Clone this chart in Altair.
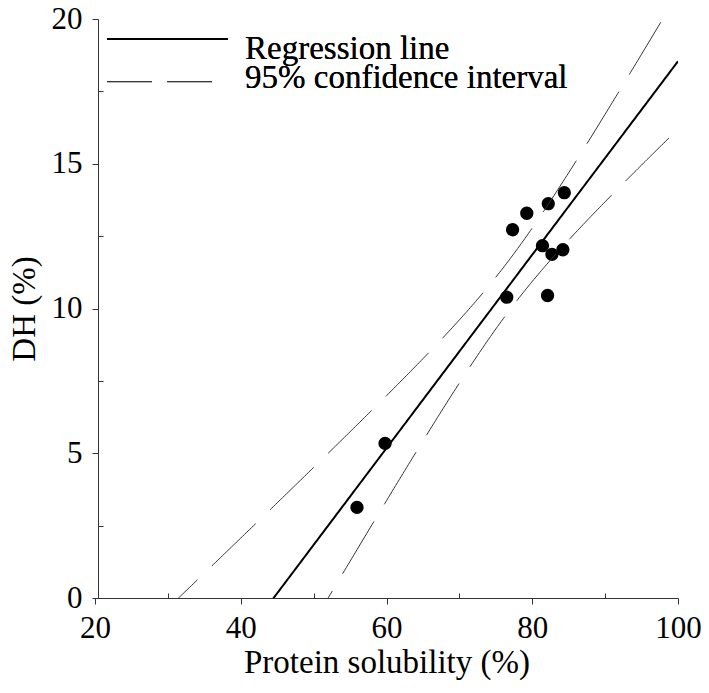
import numpy as np
import pandas as pd
import altair as alt

# ---- data ----
solubility = [84.4, 82.2, 79.25, 77.3, 81.4, 84.2, 82.7, 76.5, 82.1, 59.8, 55.95]
dh = [14.0, 13.62, 13.29, 12.72, 12.17, 12.03, 11.87, 10.39, 10.45, 5.34, 3.13]
x_ticks = [20, 40, 60, 80, 100]
x_minor = [30, 50, 70, 90]
y_ticks = [0, 5, 10, 15, 20]
y_minor = [2.5, 7.5, 12.5, 17.5]
legend_labels = ["Regression line", "95% confidence interval"]

# ---- least-squares fit and 95% confidence band of the mean ----
x = np.array(solubility)
y = np.array(dh)
n = len(x)
slope, intercept = np.polyfit(x, y, 1)
resid = y - (slope * x + intercept)
s = np.sqrt(np.sum(resid ** 2) / (n - 2))
sxx = np.sum((x - x.mean()) ** 2)
t975 = 2.262  # Student t quantile, 9 degrees of freedom
grid = np.linspace(20, 100, 321)
fit = slope * grid + intercept
hw = t975 * s * np.sqrt(1.0 / n + (grid - x.mean()) ** 2 / sxx)

pts = pd.DataFrame({"x": solubility, "y": dh})
fit_df = pd.DataFrame({"x": grid, "y": fit})
ci_df = pd.concat([
    pd.DataFrame({"x": grid, "y": fit + hw, "bound": "upper"}),
    pd.DataFrame({"x": grid, "y": fit - hw, "bound": "lower"}),
])

FONT = "Liberation Serif"
W, H = 583, 579
xs = alt.Scale(domain=[20, 100], nice=False, zero=False)
ys = alt.Scale(domain=[0, 20], nice=False, zero=False)

points = alt.Chart(pts).mark_circle(size=177, color="black", opacity=1).encode(
    x=alt.X("x:Q", scale=xs, title="Protein solubility (%)",
            axis=alt.Axis(values=x_ticks, tickSize=6, labelPadding=9,
                          titlePadding=3, format="d", labelFlush=False)),
    y=alt.Y("y:Q", scale=ys, title="DH (%)",
            axis=alt.Axis(values=y_ticks, tickSize=6, labelPadding=10,
                          titlePadding=10, offset=-3, format="d",
                          labelFlush=False)),
)

minor = alt.Chart(pts).mark_point(opacity=0).encode(
    x=alt.X("x:Q", scale=xs, title="",
            axis=alt.Axis(orient="top", offset=-H, values=x_minor, labels=False,
                          domain=False, tickSize=5)),
    y=alt.Y("y:Q", scale=ys, title="",
            axis=alt.Axis(orient="right", offset=-(W - 3), values=y_minor,
                          labels=False, domain=False, tickSize=5)),
)

reg_line = alt.Chart(fit_df).mark_line(color="black", strokeWidth=2, clip=True).encode(
    x=alt.X("x:Q", scale=xs, axis=None),
    y=alt.Y("y:Q", scale=ys, axis=None),
)

ci_lines = alt.Chart(ci_df).mark_line(color="#333333", strokeWidth=1,
                                      strokeDash=[61, 20], clip=True).encode(
    x=alt.X("x:Q", scale=xs, axis=None),
    y=alt.Y("y:Q", scale=ys, axis=None),
    detail="bound:N",
)

leg_df = pd.DataFrame({"label": legend_labels})
leg_reg = alt.Chart(leg_df).mark_rule(color="black", strokeWidth=2).encode(
    x=alt.value(12), x2=alt.value(133), y=alt.value(20))
leg_ci = alt.Chart(leg_df).mark_rule(color="#333333", strokeWidth=1,
                                     strokeDash=[45, 15]).encode(
    x=alt.value(12), x2=alt.value(118), y=alt.value(62.7))
leg_t1 = alt.Chart(leg_df).mark_text(text=legend_labels[0], align="left",
                                     baseline="alphabetic", font=FONT,
                                     fontSize=33, color="black").encode(
    x=alt.value(150), y=alt.value(40.3))
leg_t2 = alt.Chart(leg_df).mark_text(text=legend_labels[1], align="left",
                                     baseline="alphabetic", font=FONT,
                                     fontSize=33, color="black").encode(
    x=alt.value(150), y=alt.value(69.3))

chart = alt.layer(
    points, minor, ci_lines, reg_line, leg_reg, leg_ci, leg_t1, leg_t2
).resolve_axis(
    x="independent", y="independent"
).properties(
    width=W, height=H,
    autosize=alt.AutoSizeParams(type="none"),
    padding={"left": 87, "top": 11, "right": 23, "bottom": 82},
).configure_axis(
    labelFont=FONT, labelFontSize=31, labelColor="black",
    titleFont=FONT, titleFontSize=33, titleFontWeight="normal", titleColor="black",
    domainColor="#333333", tickColor="#333333", domainWidth=1, tickWidth=1,
    grid=False,
).configure_view(stroke="transparent")

chart.save("out.html", embed_options={"renderer": "svg", "actions": False})
